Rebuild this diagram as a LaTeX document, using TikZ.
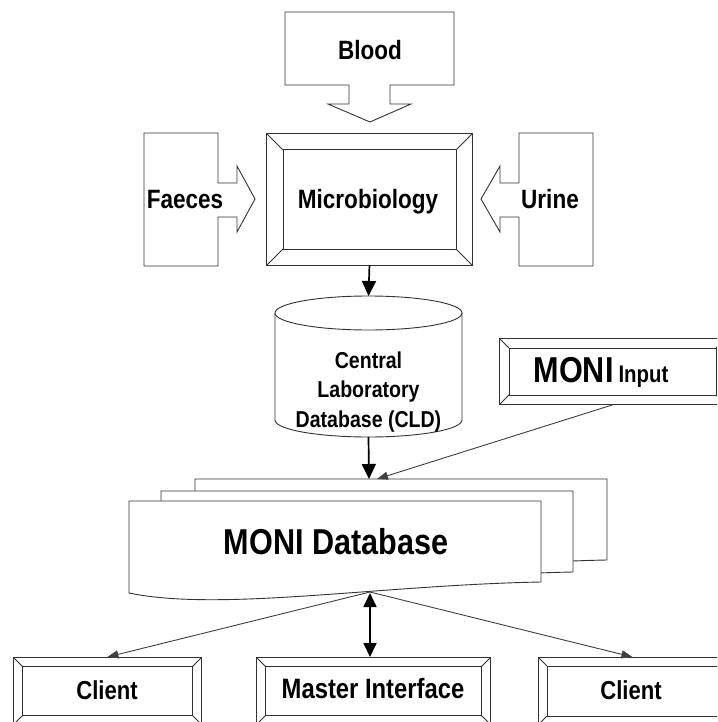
\documentclass[tikz,border=0pt]{standalone}
\usepackage{fontspec}
\setmainfont{Liberation Sans}
\newfontfamily\cf[FakeStretch=0.85]{Liberation Sans}
\usetikzlibrary{arrows.meta}
\begin{document}
\begin{tikzpicture}[x=1pt,y=-1pt,
  ln/.style={draw=black!80, line width=0.9pt},
  bevelbox/.style={ln, fill=white, inner sep=0pt, anchor=north west, rectangle,
    path picture={
      \draw[ln] ([xshift=#1pt,yshift=-#1pt]path picture bounding box.north west) rectangle ([xshift=-#1pt,yshift=#1pt]path picture bounding box.south east);
      \draw[ln] (path picture bounding box.north west) -- ++(#1pt,-#1pt)
                (path picture bounding box.north east) -- ++(-#1pt,-#1pt)
                (path picture bounding box.south west) -- ++(#1pt,#1pt)
                (path picture bounding box.south east) -- ++(-#1pt,#1pt);
    }},
  lbl/.style={font=\cf\bfseries\fontsize{26.5pt}{30pt}\selectfont, inner sep=0pt, anchor=base},
  biglbl/.style={font=\cf\bfseries\fontsize{36pt}{40pt}\selectfont, inner sep=0pt, anchor=base},
  cldlbl/.style={font=\cf\bfseries\fontsize{23pt}{29.5pt}\selectfont, inner sep=0pt, anchor=base, align=center},
  thickarrow/.style={draw=black, line width=1.7pt, -{Triangle[length=15pt,width=14pt]}},
  dblarrow/.style={draw=black, line width=1.7pt, {Triangle[length=14pt,width=13pt]}-{Triangle[length=14pt,width=13pt]}},
  thinarrow/.style={draw=black!75, line width=0.9pt, -{Triangle[length=11pt,width=8pt]}},
  docpage/.style={ln, fill=white}
]
\useasboundingbox (0,0) rectangle (717,722);
\fill[white] (0,0) rectangle (717,722);
\clip (0,0) rectangle (717,722);

% Blood callout
\draw[ln, fill=white] (285,12) -- (454,12) -- (454,85) -- (390,85) -- (390,104) -- (411,104)
  -- (370,122) -- (328,104) -- (349,104) -- (349,85) -- (285,85) -- cycle;
\node[lbl] (blood) at (370,60) {Blood};

% Faeces callout
\draw[ln, fill=white] (144,133) -- (218,133) -- (218,183) -- (237,183) -- (237,166) -- (255,199)
  -- (237,232) -- (237,217) -- (218,217) -- (218,266) -- (144,266) -- cycle;
\node[lbl] (faeces) at (185,208) {Faeces};

% Urine callout
\draw[ln, fill=white] (593,133) -- (519,133) -- (519,183) -- (500,183) -- (500,166) -- (481,199)
  -- (500,232) -- (500,217) -- (519,217) -- (519,266) -- (593,266) -- cycle;
\node[lbl] (urine) at (550,208) {Urine};

% Microbiology
\node[bevelbox=16.5, minimum width=206pt, minimum height=132pt] (micro) at (266,133) {};
\node[lbl] (microt) at (368,208) {Microbiology};

% Cylinder (CLD)
\draw[ln, fill=white] (275,313) -- (275,420) .. controls (275,429.4) and (316.9,437) .. (368.5,437)
  .. controls (420.1,437) and (462,429.4) .. (462,420) -- (462,313);
\draw[ln] (368.5,313) ellipse [x radius=93.5pt, y radius=17pt];
\coordinate (cldtop) at (368.5,296);
\coordinate (cldbot) at (368.5,437);
\node[cldlbl] (cld) at (368.5,427) {Central\\Laboratory\\Database (CLD)};

% MONI Input
\node[bevelbox=9.5, minimum width=226pt, minimum height=66pt] (mi) at (499,338) {};
\node[inner sep=0pt, anchor=base, font=\cf\bfseries] (mit) at (601,382)
  {{\fontsize{36pt}{40pt}\selectfont MONI}\hspace{5pt}{\fontsize{24pt}{28pt}\selectfont Input}};

% MONI Database (stacked documents)
\foreach \sx/\sy in {66/-22, 32/-10, 0/0}{
  \begin{scope}[shift={(\sx,\sy)}]
    \draw[docpage] (129,501) -- (541,501) -- (541,582) .. controls (380,585) and (220,612) .. (129,593) -- cycle;
  \end{scope}
}
\node[biglbl] (monidb) at (336,554) {MONI Database};
\coordinate (dbtop) at (369,479);
\coordinate (dbbot) at (370,592);

% Bottom boxes
\node[bevelbox=9, minimum width=188pt, minimum height=67pt] (client1) at (13,657) {};
\node[lbl, font=\cf\bfseries\fontsize{26pt}{30pt}\selectfont] (client1t) at (107,699) {Client};
\node[bevelbox=9, minimum width=234pt, minimum height=67pt] (master) at (256,657) {};
\node[lbl, font=\cf\bfseries\fontsize{28pt}{30pt}\selectfont] (mastert) at (373,698) {Master Interface};
\node[bevelbox=8.5, minimum width=188pt, minimum height=67pt] (client2) at (538,657) {};
\node[lbl, font=\cf\bfseries\fontsize{26pt}{30pt}\selectfont] (client2t) at (631,699) {Client};

% Connectors
\draw[thickarrow] (micro.south) -- (cldtop);
\draw[thickarrow] (cldbot) -- (dbtop);
\draw[thinarrow] (mi.south) -- ([xshift=8pt]dbtop);
\draw[thinarrow] (dbbot) -- (client1.north);
\draw[thinarrow] (dbbot) -- (client2.north);
\draw[dblarrow] ([yshift=-1pt]dbbot) -- (dbbot |- master.north);
\end{tikzpicture}
\end{document}
